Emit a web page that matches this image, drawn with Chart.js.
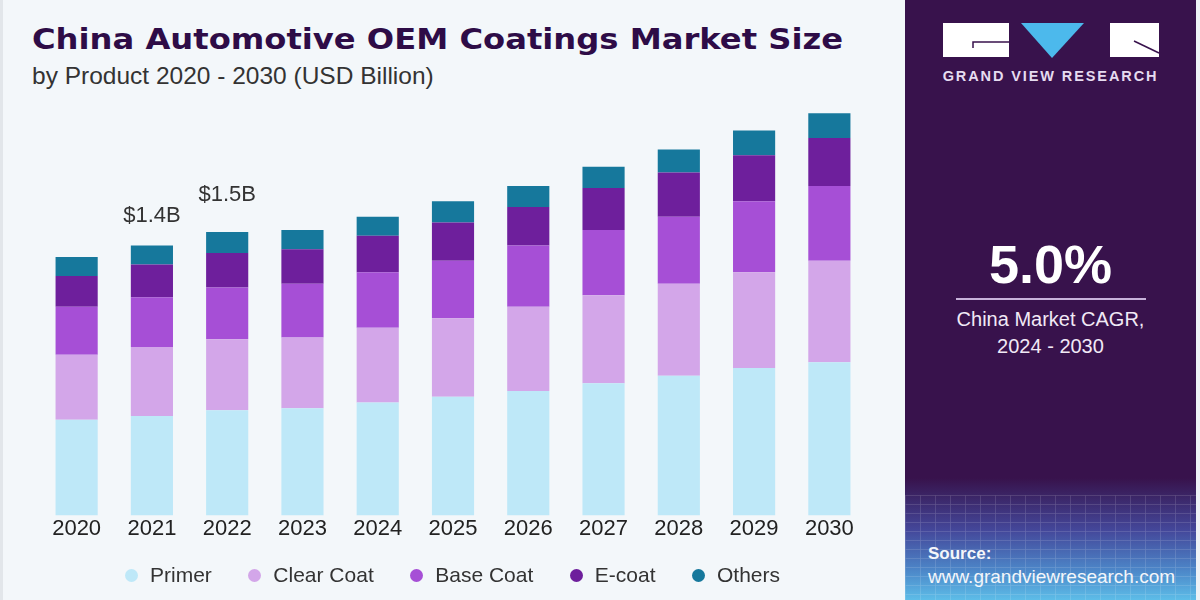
<!DOCTYPE html>
<html lang="en">
<head>
    <meta charset="UTF-8">
    <title>China Automotive OEM Coatings Market Size</title>
    <script src="https://cdn.jsdelivr.net/npm/chart.js"></script>
    <style>
        html, body { margin: 0; padding: 0; }
        body { width: 1200px; height: 600px; position: relative; overflow: hidden; background: #F3F7FA; font-family: "Liberation Sans", Arial, sans-serif; }
        .leftEdge { position: absolute; left: 0; top: 0; width: 3px; height: 600px; background: #E2E6EA; }
        .title { position: absolute; left: 32px; top: 21px; margin: 0; font-family: "DejaVu Sans", sans-serif; font-weight: bold; font-size: 29px; line-height: 36px; color: #2E0C47; white-space: nowrap; transform: scaleX(1.11); transform-origin: left center; }
        .subtitle { position: absolute; left: 32px; top: 61px; margin: 0; font-size: 24.5px; line-height: 30px; color: #333; white-space: nowrap; }
        #chartWrap { position: absolute; left: 0; top: 0; width: 900px; height: 600px; }
        #legend { position: absolute; left: 125px; top: 562px; height: 26px; display: flex; align-items: center; font-size: 21px; color: #333; }
        #legend .item { display: flex; align-items: center; margin-right: 36.5px; white-space: nowrap; }
        #legend .item:last-child { margin-right: 0; }
        #legend .dot { width: 13px; height: 13px; border-radius: 50%; margin-right: 12px; }
        .panel { position: absolute; left: 905px; top: 0; width: 291px; height: 600px;
            background: linear-gradient(to bottom, #38124C 0px, #38124C 478px, #3B2566 496px, #44479A 530px, #4C86C8 570px, #5DBDE8 600px); }
        .grid { position: absolute; left: 0; top: 495px; width: 291px; height: 105px; opacity: 0.18;
            background-image: repeating-linear-gradient(to right, rgba(255,255,255,0.7) 0 1px, transparent 1px 15px),
                              repeating-linear-gradient(to bottom, rgba(255,255,255,0.7) 0 1px, transparent 1px 9px); }
        .rightEdge { position: absolute; left: 1196px; top: 0; width: 4px; height: 600px; background: #EEF2F6; }
        .brand { position: absolute; left: 0; top: 68px; width: 291px; text-align: center; font-weight: bold; font-size: 14.5px; letter-spacing: 1.9px; color: #E6DCF0; }
        .cagr { position: absolute; left: 0; top: 236px; width: 291px; text-align: center; font-weight: bold; font-size: 54px; line-height: 56px; color: #FFFFFF; }
        .rule { position: absolute; left: 51px; top: 298px; width: 190px; height: 2px; background: #C7B2DA; }
        .cagrText { position: absolute; left: 0; top: 306px; width: 291px; text-align: center; font-size: 20px; line-height: 27px; color: #F1E9F6; }
        .source { position: absolute; left: 23px; top: 543px; color: #F4F6FA; }
        .source b { font-size: 17px; display: block; line-height: 22px; }
        .source span { font-size: 19px; line-height: 24px; }
    </style>
</head>
<body>
    <div class="leftEdge"></div>
    <h1 class="title">China Automotive OEM Coatings Market Size</h1>
    <p class="subtitle">by Product 2020 - 2030 (USD Billion)</p>
    <div id="chartWrap"><canvas id="marketChart" width="900" height="600"></canvas></div>
    <div id="legend"></div>

    <div class="panel">
        <svg width="291" height="64" style="position:absolute;left:0;top:0">
            <rect x="38" y="23" width="66" height="34" fill="#FFFFFF"/>
            <path d="M68 48 L68 42 L104 42" stroke="#38124C" stroke-width="1.5" fill="none"/>
            <polygon points="116,23 179,23 147,58" fill="#4CB9EC"/>
            <rect x="205" y="23" width="49" height="34" fill="#FFFFFF"/>
            <path d="M229 41 L254 53" stroke="#38124C" stroke-width="1.5" fill="none"/>
        </svg>
        <div class="brand">GRAND VIEW RESEARCH</div>
        <div class="cagr">5.0%</div>
        <div class="rule"></div>
        <div class="cagrText">China Market CAGR,<br>2024 - 2030</div>
        <div class="grid"></div>
        <div class="source"><b>Source:</b><span>www.grandviewresearch.com</span></div>
    </div>
    <div class="rightEdge"></div>

    <script>
        const years=['2020','2021','2022','2023','2024','2025','2026','2027','2028','2029','2030'];
        const primer=[0.50,0.52,0.55,0.56,0.59,0.62,0.65,0.69,0.73,0.77,0.80];
        const clearCoat=[0.34,0.36,0.37,0.37,0.39,0.41,0.44,0.46,0.48,0.50,0.53];
        const baseCoat=[0.25,0.26,0.27,0.28,0.29,0.30,0.32,0.34,0.35,0.37,0.39];
        const eCoat=[0.16,0.17,0.18,0.18,0.19,0.20,0.20,0.22,0.23,0.24,0.25];
        const others=[0.10,0.10,0.11,0.10,0.10,0.11,0.11,0.11,0.12,0.13,0.13];
        const totalLabels=[{year:'2021',text:'$1.4B'},{year:'2022',text:'$1.5B'}];

        const ctx=document.getElementById('marketChart');

        // labels above the 2021 and 2022 stacks
        const totalsPlugin={
            id:'totals',
            afterDatasetsDraw(chart){
                const c=chart.ctx;
                const x=chart.scales.x, y=chart.scales.y;
                const lift=[29,37];
                c.save();
                c.font='22px "Liberation Sans", Arial, sans-serif';
                c.fillStyle='#333333';
                c.textAlign='center';
                c.textBaseline='middle';
                totalLabels.forEach((lbl,k)=>{
                    const i=years.indexOf(lbl.year);
                    let sum=0;
                    chart.data.datasets.forEach(ds=>{ sum+=ds.data[i]; });
                    c.fillText(lbl.text, x.getPixelForValue(i), y.getPixelForValue(sum)-lift[k]);
                });
                c.restore();
            }
        };

        const chart=new Chart(ctx,{
            type:'bar',
            data:{
                labels:years,
                datasets:[
                    {label:'Primer',data:primer,backgroundColor:'#BEE8F8'},
                    {label:'Clear Coat',data:clearCoat,backgroundColor:'#D3A6E9'},
                    {label:'Base Coat',data:baseCoat,backgroundColor:'#A64FD6'},
                    {label:'E-coat',data:eCoat,backgroundColor:'#6E1F9C'},
                    {label:'Others',data:others,backgroundColor:'#16789C'}
                ]
            },
            options:{
                responsive:false,
                animation:false,
                layout:{padding:{left:39,right:33,top:94,bottom:58}},
                datasets:{bar:{barPercentage:0.56,categoryPercentage:1.0,borderWidth:0}},
                scales:{
                    x:{
                        stacked:true,
                        grid:{display:false,drawTicks:false},
                        border:{display:false},
                        ticks:{color:'#222222',font:{size:22,family:'"Liberation Sans", Arial, sans-serif'},padding:0}
                    },
                    y:{stacked:true,display:false,min:0,max:2.2}
                },
                plugins:{
                    legend:{display:false},
                    tooltip:{enabled:false}
                }
            },
            plugins:[totalsPlugin]
        });

        // html legend built from the chart's datasets
        const legendBox=document.getElementById('legend');
        chart.data.datasets.forEach(ds=>{
            const item=document.createElement('div');
            item.className='item';
            item.innerHTML=`<span class="dot" style="background:${ds.backgroundColor}"></span>${ds.label}`;
            legendBox.appendChild(item);
        });
    </script>
</body>
</html>
